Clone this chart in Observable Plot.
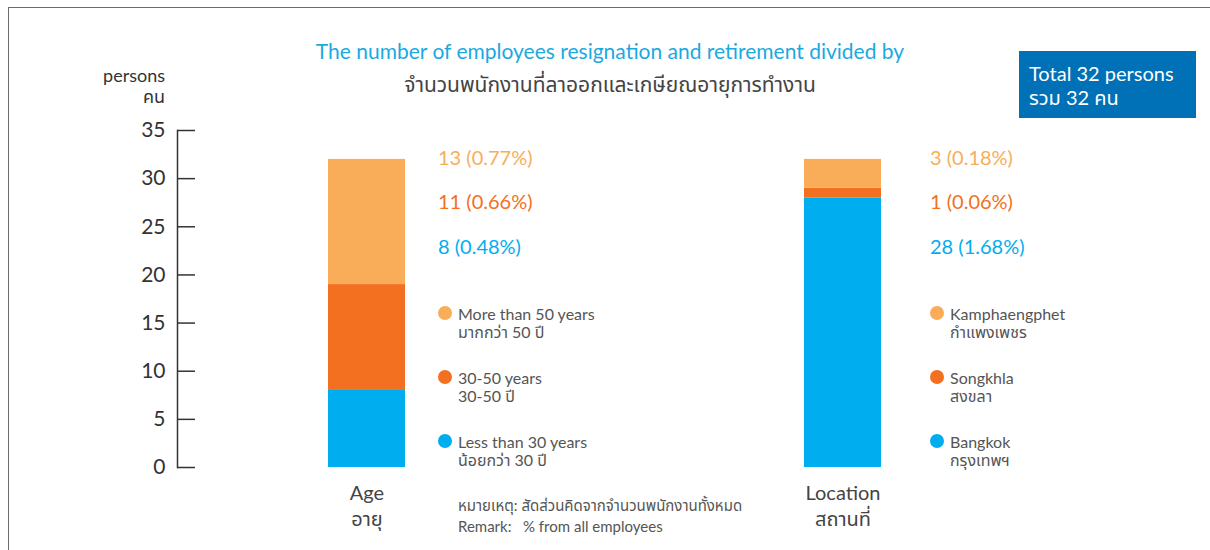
<!DOCTYPE html>
<html>
<head>
<meta charset="utf-8">
<script src="https://cdn.jsdelivr.net/npm/d3@7"></script>
<script src="https://cdn.jsdelivr.net/npm/@observablehq/plot@0.6"></script>
<style>
  html, body { margin: 0; padding: 0; background: #fff; }
  #wrap { position: relative; width: 1210px; height: 550px; overflow: hidden;
    font-family: Lato, "Noto Sans", "Noto Sans Thai", "Noto Sans Thai UI", sans-serif; }
  #wrap svg { position: absolute; left: 0; top: 0; }
  .abs { position: absolute; white-space: pre; transform: translateY(-50%); }
  .border { position: absolute; left: 8px; top: 7px; right: 0; bottom: 0;
    border-top: 1.5px solid #6b6b6b; border-left: 1.5px solid #6b6b6b; }
  .dot { position: absolute; width: 14px; height: 14px; border-radius: 50%; transform: translate(-50%, -50%); }
</style>
</head>
<body>
<div id="wrap"><div class="border"></div></div>
<script>
// ---------- data ----------
const groups = ["Age", "Location"];
const groupLabels = ["Age\nอายุ", "Location\nสถานที่"];
const levels = ["low", "mid", "high"]; // bottom -> top of each stacked bar
const levelColors = ["#00aeef", "#f37021", "#f9ad59"];

const ageNames = ["Less than 30 years", "30-50 years", "More than 50 years"];
const ageNamesTh = ["น้อยกว่า 30 ปี", "30-50 ปี", "มากกว่า 50 ปี"];
const ageValues = [8, 11, 13];
const agePercents = ["0.48%", "0.66%", "0.77%"];

const locNames = ["Bangkok", "Songkhla", "Kamphaengphet"];
const locNamesTh = ["กรุงเทพฯ", "สงขลา", "กำแพงเพชร"];
const locValues = [28, 1, 3];
const locPercents = ["1.68%", "0.06%", "0.18%"];

const yTicks = [0, 5, 10, 15, 20, 25, 30, 35];
const yUnit = ["persons", "คน"];
const titleEn = "The number of employees resignation and retirement divided by";
const titleTh = "จำนวนพนักงานที่ลาออกและเกษียณอายุการทำงาน";
const totalText = ["Total 32 persons", "รวม 32 คน"];
const remarkText = ["หมายเหตุ: สัดส่วนคิดจากจำนวนพนักงานทั้งหมด", "Remark:   % from all employees"];

// ---------- table ----------
const rows = [];
ageValues.forEach((v, i) => rows.push({group: "Age", level: levels[i], value: v}));
locValues.forEach((v, i) => rows.push({group: "Location", level: levels[i], value: v}));

const chart = Plot.plot({
  width: 1210,
  height: 550,
  marginLeft: 177,
  marginRight: 178,
  marginTop: 130,
  marginBottom: 83,
  style: {fontFamily: 'Lato, "Noto Sans", "Noto Sans Thai", sans-serif', background: "transparent", color: "#333"},
  x: {type: "band", domain: groups, paddingInner: 0.838, paddingOuter: 0.317, label: null},
  y: {domain: [0, 35], label: null},
  color: {domain: levels, range: levelColors},
  marks: [
    Plot.barY(rows, {x: "group", y: "value", fill: "level", order: levels}),
    Plot.frame({anchor: "left", stroke: "#333", strokeWidth: 1.5}),
    Plot.axisY({ticks: yTicks, tickSize: -18, tickPadding: 30, fontSize: 21, stroke: "#333", strokeWidth: 1.5, fill: "#333", label: null}),
    Plot.axisX({tickSize: 0, tickPadding: 14, fontSize: 20, fill: "#444", lineHeight: 1.3,
      tickFormat: d => groupLabels[groups.indexOf(d)], label: null})
  ]
});
const wrap = document.getElementById("wrap");
wrap.appendChild(chart);

function addText(txt, x, y, style) {
  const d = document.createElement("div");
  d.className = "abs";
  d.textContent = txt;
  d.style.left = x + "px";
  d.style.top = y + "px";
  Object.assign(d.style, style || {});
  wrap.appendChild(d);
  return d;
}
function addDot(x, y, color) {
  const d = document.createElement("div");
  d.className = "dot";
  d.style.left = x + "px";
  d.style.top = y + "px";
  d.style.background = color;
  wrap.appendChild(d);
}

// titles
addText(titleEn, 610, 50, {transform: "translate(-50%,-50%)", fontSize: "21px", color: "#1aa9e1"});
addText(titleTh, 610, 85, {transform: "translate(-50%,-50%)", fontSize: "21px", color: "#444"});

// y unit
addText(yUnit[0], 165, 75, {transform: "translate(-100%,-50%)", fontSize: "18px", color: "#333"});
addText(yUnit[1], 165, 97, {transform: "translate(-100%,-50%)", fontSize: "18px", color: "#333"});

// total box
const box = document.createElement("div");
Object.assign(box.style, {position: "absolute", left: "1019px", top: "51px", width: "177px", height: "67px",
  background: "#0071b7", color: "#fff", fontSize: "20px", lineHeight: "24px", boxSizing: "border-box",
  padding: "10px 0 0 10px"});
box.innerHTML = totalText.join("<br>");
wrap.appendChild(box);

// value labels & legends
const labelY = [246, 201, 157]; // low, mid, high
const legendY = [441, 377, 313];
function panel(x0, values, percents, names, namesTh) {
  values.forEach((v, i) => {
    addText(`${v} (${percents[i]})`, x0, labelY[i], {fontSize: "20px", color: levelColors[i]});
    addDot(x0 + 7, legendY[i], levelColors[i]);
    addText(names[i], x0 + 20, legendY[i], {fontSize: "16px", color: "#555"});
    addText(namesTh[i], x0 + 20, legendY[i] + 20, {fontSize: "16px", color: "#555"});
  });
}
panel(438, ageValues, agePercents, ageNames, ageNamesTh);
panel(930, locValues, locPercents, locNames, locNamesTh);

// remark
addText(remarkText[0], 458, 506, {fontSize: "15px", color: "#555"});
addText(remarkText[1], 458, 526, {fontSize: "15px", color: "#555"});
</script>
</body>
</html>
